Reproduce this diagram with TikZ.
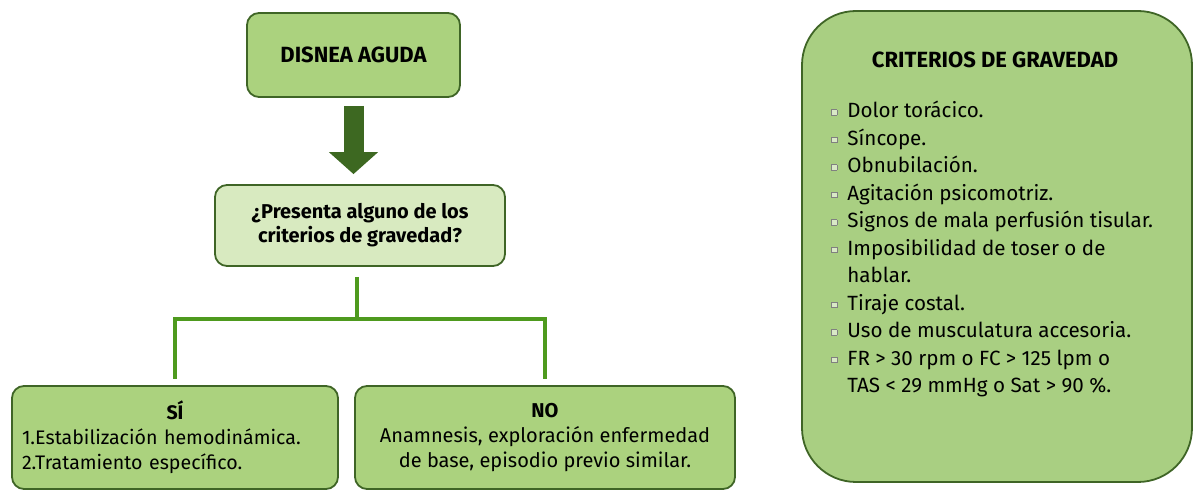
\documentclass[tikz,border=0pt]{standalone}
\usepackage{fontspec}
\setmainfont{Fira Sans}
\usetikzlibrary{positioning,arrows.meta}

\definecolor{boxgreen}{HTML}{ABD27E}
\definecolor{palegreen}{HTML}{D8EAC0}
\definecolor{critgreen}{HTML}{A9CF82}
\definecolor{darkline}{HTML}{3F6526}
\definecolor{linkgreen}{HTML}{4E9A1E}
\definecolor{arrowgreen}{HTML}{3D6821}
\definecolor{bulletcol}{HTML}{D9E9C6}

\tikzstyle{stepbox}=[draw=darkline,line width=0.9pt,rounded corners=6pt,fill=boxgreen,align=center,inner sep=0pt]
\tikzstyle{link}=[draw=linkgreen,line width=1.6pt]
\tikzstyle{bigarrow}=[draw=arrowgreen,line width=10pt,-{Triangle[width=24pt,length=11pt]}]

% small square bullet of the list
\newcommand{\critbul}{{\setlength{\fboxsep}{0pt}\setlength{\fboxrule}{0.4pt}\raisebox{1.5pt}{\fcolorbox{gray}{bulletcol}{\rule{2.2pt}{0pt}\rule{0pt}{2.2pt}}}}}

\begin{document}
\begin{tikzpicture}[x=0.5pt,y=-0.5pt]
                  \useasboundingbox (0,0) rectangle (1200,491);
                  % Flow on the left
                  \node[stepbox,minimum width=106.5pt,minimum height=42pt,font=\bfseries\fontsize{11}{13}\selectfont] (disnea) at (353.5,55) {DISNEA AGUDA};
                  \node[stepbox,fill=palegreen,minimum width=145pt,minimum height=40.5pt,font=\bfseries\fontsize{10}{12}\selectfont] (pregunta) at (360,225.5) {¿Presenta alguno de los\\criterios de gravedad?};
                  \node[stepbox,minimum width=163pt,minimum height=51.5pt,text width=153pt,align=left,font=\fontsize{9.8}{12.5}\selectfont] (si) at (175,437.5) {\makebox[\linewidth]{\bfseries SÍ}\\1.Estabilización hemodinámica.\\2.Tratamiento específico.};
                  \node[stepbox,minimum width=190pt,minimum height=51.5pt,font=\fontsize{10}{12.5}\selectfont] (no) at (545,437.5) {{\bfseries NO}\\Anamnesis, exploración enfermedad\\de base, episodio previo similar.};
                  % Big arrow and branches
                  \draw[bigarrow,shorten <=4pt,shorten >=5pt] (disnea.south) -- (disnea.south |- pregunta.north);
                  \coordinate (split) at (357,319);
                  \draw[link] ([yshift=-5pt]pregunta.south -| split) -- (split);
                  \foreach \dest in {si,no}
                  \draw[link] (split) -| ([yshift=3pt]\dest.north);
                  % Box of the criteria on the right
                  \node[stepbox,fill=critgreen,rounded corners=27pt,minimum width=195pt,minimum height=235.5pt] (criterios) at (997,246.5) {};
                  \node[font=\bfseries\fontsize{11}{13}\selectfont] (titulo) at (995,60) {CRITERIOS DE GRAVEDAD};
                  \node[anchor=north west,inner sep=0pt,align=left,font=\fontsize{10.3}{13.75}\selectfont] (lista) at (831,98) {%
                        \begin{tabular}{@{}c@{\hspace{5pt}}l@{}}
                        \critbul & Dolor torácico.\\
                        \critbul & Síncope.\\
                        \critbul & Obnubilación.\\
                        \critbul & Agitación psicomotriz.\\
                        \critbul & Signos de mala perfusión tisular.\\
                        \critbul & Imposibilidad de toser o de\\
                                 & hablar.\\
                        \critbul & Tiraje costal.\\
                        \critbul & Uso de musculatura accesoria.\\
                        \critbul & FR > 30 rpm o FC > 125 lpm o\\
                                 & TAS < 29 mmHg o Sat > 90 \%.
                        \end{tabular}};
            \end{tikzpicture}
\end{document}
